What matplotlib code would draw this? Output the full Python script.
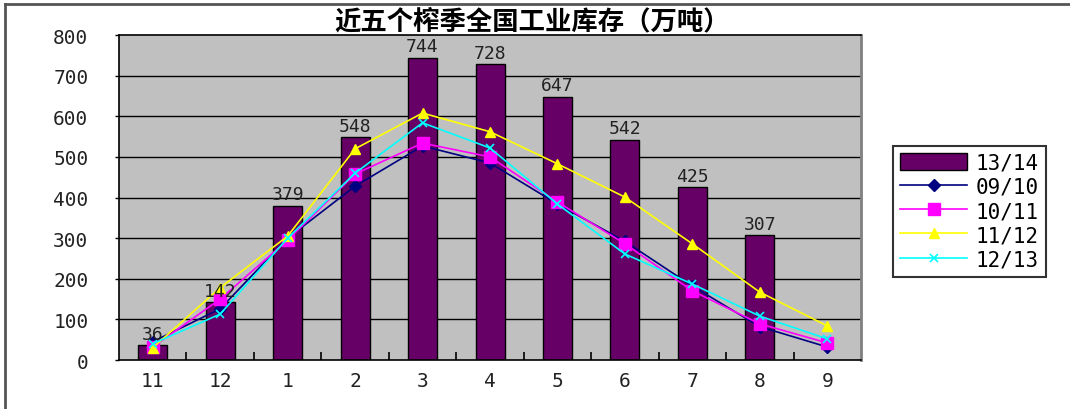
#!/usr/bin/env python3
"""
Recreate: 近五个榨季全国工业库存（万吨）
Bars for 13/14 season, lines for the four earlier seasons.
"""

import numpy as np
import matplotlib
matplotlib.use('Agg')
import matplotlib.pyplot as plt
from matplotlib.lines import Line2D

# --- DATA ---
months = ['11', '12', '1', '2', '3', '4', '5', '6', '7', '8', '9']
s1314 = [36, 142, 379, 548, 744, 728, 647, 542, 425, 307]
s0910 = [45, 126, 300, 428, 527, 485, 384, 292, 182, 82, 32]
s1011 = [32, 150, 295, 458, 534, 500, 389, 286, 170, 89, 42]
s1112 = [30, 178, 305, 520, 608, 562, 483, 401, 286, 167, 84]
s1213 = [40, 113, 300, 460, 584, 522, 384, 261, 187, 108, 52]

TITLE = '近五个榨季全国工业库存（万吨）'
NUM_FONT = 'DejaVu Sans Mono'
NUM_SIZE = 14

fig = plt.figure(figsize=(10.7, 4.1), dpi=100)
fig.patch.set_facecolor('white')
ax = fig.add_axes([0.1112, 0.1195, 0.6935, 0.7925])
ax.set_facecolor('#c0c0c0')

x = np.arange(len(months))

# horizontal gridlines
for v in range(100, 800, 100):
    ax.axhline(v, color='black', lw=1, zorder=1)

ax.bar(x[:len(s1314)], s1314, width=0.43, color='#660066',
       edgecolor='black', lw=1, zorder=2, label='13/14')
for xi, v in zip(x, s1314):
    ax.annotate(str(v), (xi, v), xytext=(0, 2), textcoords='offset points',
                ha='center', va='bottom', fontsize=NUM_SIZE - 1, family=NUM_FONT,
                color='#222222', zorder=5)

ax.plot(x, s0910, color='#000080', marker='D', ms=6, lw=1.2, zorder=3, label='09/10')
ax.plot(x, s1011, color='#ff00ff', marker='s', ms=8, lw=1.2, zorder=3, label='10/11')
ax.plot(x, s1112, color='#ffff00', marker='^', ms=7, lw=1.2, zorder=3, label='11/12')
ax.plot(x, s1213, color='#00ffff', marker='x', ms=6, mew=1.2, lw=1.2, zorder=3, label='12/13')

ax.set_xlim(-0.5, len(months) - 0.5)
ax.set_ylim(0, 800)
ax.set_yticks(range(0, 801, 100))
ax.set_yticklabels([str(v) for v in range(0, 801, 100)], family=NUM_FONT,
                   fontsize=NUM_SIZE, color='#222222')
ax.set_xticks(x)
ax.set_xticklabels(months, family=NUM_FONT, fontsize=NUM_SIZE, color='#222222')
ax.tick_params(axis='x', length=0, pad=8)
ax.tick_params(axis='y', length=3, width=1, pad=19)
# small tick marks between categories, pointing up
ax.set_xticks(np.arange(0.5, len(months) - 1, 1.0), minor=True)
ax.tick_params(axis='x', which='minor', direction='in', length=6, width=1.2)

for side in ['left', 'bottom', 'top']:
    ax.spines[side].set_color('black')
    ax.spines[side].set_linewidth(1.2)
ax.spines['right'].set_color('#808080')
ax.spines['right'].set_linewidth(2)

fig.text(0.497, 0.947, TITLE, ha='center', va='center', fontsize=19,
         fontweight='bold', family=['Noto Sans CJK SC', 'DejaVu Sans'])

handles, labels = ax.get_legend_handles_labels()
order = [labels.index(l) for l in ['13/14', '09/10', '10/11', '11/12', '12/13']]
leg = fig.legend([handles[i] for i in order], [labels[i] for i in order],
                 loc='upper left', bbox_to_anchor=(0.825, 0.668),
                 frameon=True, fancybox=False, edgecolor='black',
                 prop={'family': NUM_FONT, 'size': NUM_SIZE + 1}, handlelength=3.2,
                 handleheight=0.9, labelspacing=0.2, borderpad=0.35,
                 handletextpad=0.4)
leg.get_frame().set_linewidth(1.5)

# outer chart frame (left and top edges)
fig.add_artist(Line2D([5 / 1070, 5 / 1070], [0, 1 - 5 / 410],
                      transform=fig.transFigure, color='#555555', lw=2))
fig.add_artist(Line2D([5 / 1070, 1], [1 - 5 / 410, 1 - 5 / 410],
                      transform=fig.transFigure, color='#555555', lw=2))

plt.savefig('out.png', dpi=100)
plt.close()
